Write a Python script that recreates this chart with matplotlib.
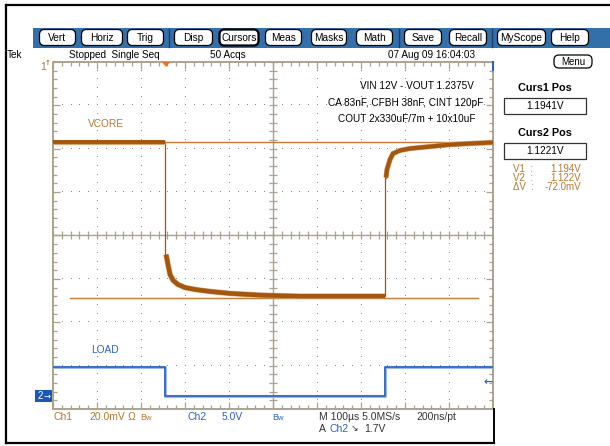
import matplotlib
matplotlib.use("Agg")
import matplotlib.pyplot as plt
from matplotlib.patches import FancyBboxPatch, Rectangle, Polygon
from matplotlib.collections import LineCollection
import numpy as np

# ---------------- data ----------------
# Channel 1 (VCORE), 20 mV/div, time in microseconds (100 us/div)
vcore_flat_t = [-500, -245.5]
vcore_flat_v = [1.1941, 1.1941]
vcore_droop_t = [-243, -238.6, -234, -227, -216, -200, -177, -143, -98, -30, 61, 254.5]
vcore_droop_v = [1.1423, 1.1377, 1.1331, 1.1304, 1.1285, 1.1271, 1.1262, 1.1253, 1.1244, 1.1236, 1.1231, 1.1231]
vcore_recov_t = [256.8, 259, 265.9, 272.7, 288.6, 311, 356.8, 402, 447.7, 500]
vcore_recov_v = [1.1778, 1.1815, 1.1861, 1.1889, 1.1903, 1.1912, 1.1921, 1.1930, 1.1935, 1.1940]
# Channel 2 (LOAD), 5 V/div
load_t = [-500, -245.5, -245.5, 254.5, 254.5, 500]
load_v = [3.34, 3.34, 0.0, 0.0, 3.34, 3.34]
# cursors
curs1_v = 1.1941
curs2_v = 1.1221
curs2_span = [-461, 466]

buttons = ["Vert", "Horiz", "Trig", "Disp", "Cursors", "Meas", "Masks", "Math",
           "Save", "Recall", "MyScope", "Help"]
button_x = [(39, 76), (81, 123), (127, 164), (174, 213), (219, 259), (265, 302),
            (311, 347), (356, 393), (404, 442), (449, 487), (497, 546), (551, 589)]

# ---------------- scales / style ----------------
CH1_CENTER = 1.1511      # volts at screen centre for Ch1
CH1_DIV = 0.02
CH2_GND_DIV = -3.69      # Ch2 ground position (divisions)
CH2_DIV = 5.0
ORANGE = "#a4560f"
ORANGE_L = "#c47a34"
ORANGE_T = "#b87830"
BLUE = "#2a62c0"
FRAME = "#a9a38e"
DOT = "#8f8f86"
NARROW = ["Liberation Sans Narrow", "Liberation Sans", "DejaVu Sans"]

W, H = 610, 446
fig = plt.figure(figsize=(W / 100, H / 100), dpi=100)
fig.patch.set_facecolor("white")

GL, GR, GT, GB = 53, 493, 62, 409
ax = fig.add_axes([GL / W, (H - GB) / H, (GR - GL) / W, (GB - GT) / H])
ax.set_xlim(-500, 500)
ax.set_ylim(CH1_CENTER - 4 * CH1_DIV, CH1_CENTER + 4 * CH1_DIV)
ax.set_facecolor("white")
ax.axis("off")

ax2 = ax.twinx()
ax2.set_ylim((-4 - CH2_GND_DIV) * CH2_DIV, (4 - CH2_GND_DIV) * CH2_DIV)
ax2.axis("off")

px_x = 1000 / (GR - GL)
px_y = 8 * CH1_DIV / (GB - GT)
x0, x1 = -500, 500
y0, y1 = CH1_CENTER - 4 * CH1_DIV, CH1_CENTER + 4 * CH1_DIV
minor_x = np.arange(-500, 500.1, 20)
minor_y = np.linspace(y0, y1, 41)
major_x = np.arange(-500, 500.1, 100)
major_y = np.linspace(y0, y1, 9)

# dotted graticule
dx, dy = [], []
for mx in major_x[1:-1]:
    if abs(mx) < 1e-6:
        continue
    dx += [mx] * len(minor_y)
    dy += list(minor_y)
for k, my in enumerate(major_y[1:-1]):
    if k == 3:
        continue
    dx += list(minor_x)
    dy += [my] * len(minor_x)
ax.plot(dx, dy, ",", color=DOT, zorder=1)

segs = []
for i, xx in enumerate(minor_x):
    L = (7 if i % 5 == 0 else 4) * px_y
    segs.append([(xx, y1), (xx, y1 - L)])
    segs.append([(xx, y0), (xx, y0 + L)])
    segs.append([(xx, CH1_CENTER - 4 * px_y), (xx, CH1_CENTER + 4 * px_y)])
for i, yy in enumerate(minor_y):
    L = (7 if i % 5 == 0 else 4) * px_x
    segs.append([(x0, yy), (x0 + L, yy)])
    segs.append([(x1, yy), (x1 - L, yy)])
    segs.append([(-4 * px_x, yy), (4 * px_x, yy)])
ax.add_collection(LineCollection(segs, colors=FRAME, linewidths=0.9, zorder=2))
ax.plot([0, 0], [y0, y1], color=FRAME, lw=1.0, zorder=2)
ax.plot([x0, x1], [CH1_CENTER, CH1_CENTER], color=FRAME, lw=1.0, zorder=2)
ax.plot([x0, x1, x1, x0, x0], [y0, y0, y1, y1, y0], color=FRAME, lw=1.4,
        zorder=2, clip_on=False)

# cursors
ax.plot([x0, x1], [curs1_v, curs1_v], color=ORANGE_L, lw=1.0, zorder=3)
ax.plot(curs2_span, [curs2_v, curs2_v], color=ORANGE_L, lw=1.0, zorder=3)

# Ch1 trace
ax.plot([vcore_flat_t[-1], vcore_flat_t[-1], vcore_droop_t[0]],
        [vcore_flat_v[-1], vcore_droop_v[0], vcore_droop_v[0]], color=ORANGE, lw=0.9, zorder=4)
ax.plot([vcore_droop_t[-1], vcore_droop_t[-1], vcore_recov_t[0]],
        [vcore_droop_v[-1], vcore_recov_v[0], vcore_recov_v[0]], color=ORANGE, lw=0.9, zorder=4)
for tt, vv, w in [(vcore_flat_t, vcore_flat_v, 2.8),
                  (vcore_droop_t, vcore_droop_v, 3.2),
                  (vcore_recov_t, vcore_recov_v, 3.0)]:
    ax.plot(tt, vv, color="#d9a878", lw=w + 0.8, zorder=4, solid_capstyle="butt")
    ax.plot(tt, vv, color=ORANGE, lw=w, zorder=5, solid_capstyle="butt")

# Ch2 trace
ax2.plot(load_t, load_v, color="#9db8e4", lw=2.2, zorder=4)
ax2.plot(load_t, load_v, color=BLUE, lw=1.2, zorder=5)

# ---------------- overlay (pixel coordinates) ----------------
ov = fig.add_axes([0, 0, 1, 1], zorder=10)
ov.set_xlim(0, W)
ov.set_ylim(H, 0)
ov.axis("off")
ov.patch.set_alpha(0)

ov.plot([6, 6], [5, 443], color="black", lw=1.6)
ov.plot([6, W], [5, 5], color="black", lw=1.6)
ov.plot([6, 494], [443, 443], color="black", lw=1.6)
ov.plot([494, 494], [409, 443], color="black", lw=1.4)

# toolbar
ov.add_patch(Rectangle((33, 28), W - 33, 20, facecolor="#3370a9", edgecolor="none"))
for sx in [168.5, 398.5, 492]:
    ov.plot([sx, sx], [29, 47], color="#1d3f66", lw=1.0)
for name, (a, b) in zip(buttons, button_x):
    lw = 1.6 if name == "Cursors" else 0.9
    ov.add_patch(FancyBboxPatch((a + 3, 32), b - a - 6, 11,
                                boxstyle="round,pad=2.5,rounding_size=5",
                                facecolor="white", edgecolor="black", lw=lw))
    ov.text((a + b) / 2, 38, name, ha="center", va="center", fontsize=7.3,
            family=NARROW, color="black")

# status row
st = dict(fontsize=7.2, family=NARROW, color="black", va="center")
ov.text(7, 55, "Tek", **st)
ov.text(69, 55, "Stopped  Single Seq", **st)
ov.text(210, 55, "50 Acqs", **st)
ov.text(388, 55, "07 Aug 09 16:04:03", **st)

ov.add_patch(FancyBboxPatch((556, 57), 34, 9, boxstyle="round,pad=2,rounding_size=5",
                            facecolor="white", edgecolor="black", lw=0.9))
ov.text(573, 62, "Menu", ha="center", va="center", fontsize=7, family=NARROW)

ov.add_patch(Polygon([(162, 62), (170, 62), (166, 67)], closed=True,
                     facecolor="#e8702a", edgecolor="none"))
ov.plot([493, 493], [62, 70], color=BLUE, lw=1.5)

ov.text(40, 67, "1", color=ORANGE_T, fontsize=7.5, family=NARROW, va="center")
ov.text(45, 63, "↑", color=ORANGE_T, fontsize=5, family=["DejaVu Sans"], va="center",
        fontweight="bold")
ov.add_patch(Rectangle((35, 390), 17, 12, facecolor="#1a58b8", edgecolor="none"))
ov.text(38, 396, "2", color="white", fontsize=7, family=NARROW, va="center")
ov.text(44, 396, "→", color="white", fontsize=6, family=["DejaVu Sans"], va="center")
ov.text(488, 382, "←", color=BLUE, fontsize=8, family=["DejaVu Sans"], va="center",
        ha="center", fontweight="bold")

an = dict(fontsize=7.2, family=NARROW, color="black", va="center", ha="right")
ov.text(474, 86, "VIN 12V - VOUT 1.2375V", **an)
ov.text(483, 103, "CA 83nF, CFBH 38nF, CINT 120pF", **an)
ov.text(476, 119, "COUT 2x330uF/7m + 10x10uF", **an)
ov.text(88, 124, "VCORE", fontsize=7.3, family=NARROW, color=ORANGE_T, va="center")
ov.text(91, 350, "LOAD", fontsize=7.3, family=NARROW, color=BLUE, va="center")

bt = dict(fontsize=7.5, family=NARROW, va="center")
ov.text(53, 417, "Ch1", color=ORANGE_T, **bt)
ov.text(89, 417, "20.0mV", color=ORANGE_T, **bt)
ov.text(128, 417, "Ω", color=ORANGE_T, **bt)
ov.text(140, 417, "B", color=ORANGE_T, fontsize=6.5, family=NARROW, va="center")
ov.text(145, 419, "w", color=ORANGE_T, fontsize=5.5, family=NARROW, va="center")
ov.text(187, 417, "Ch2", color=BLUE, **bt)
ov.text(222, 417, "5.0V", color=BLUE, **bt)
ov.text(272, 417, "B", color=BLUE, fontsize=6.5, family=NARROW, va="center")
ov.text(277, 419, "w", color=BLUE, fontsize=5.5, family=NARROW, va="center")
ov.text(319, 417, "M 100µs 5.0MS/s", color="#333333", **bt)
ov.text(416, 417, "200ns/pt", color="#333333", **bt)
ov.text(319, 429, "A", color="#333333", **bt)
ov.text(330, 429, "Ch2", color=BLUE, **bt)
ov.text(351, 429, "↘", color="#333333", fontsize=6.5, family=["DejaVu Sans"], va="center")
ov.text(364, 429, "1.7V", color="#333333", **bt)

ov.text(545, 88, "Curs1 Pos", ha="center", va="center", fontsize=7.8,
        fontweight="bold", family=["Liberation Sans", "DejaVu Sans"])
ov.add_patch(Rectangle((504, 98), 82, 16, facecolor="white", edgecolor="#333333", lw=0.9))
ov.text(545, 106, "1.1941V", ha="center", va="center", fontsize=7.3, family=NARROW)
ov.text(545, 133, "Curs2 Pos", ha="center", va="center", fontsize=7.8,
        fontweight="bold", family=["Liberation Sans", "DejaVu Sans"])
ov.add_patch(Rectangle((504, 143), 82, 16, facecolor="white", edgecolor="#333333", lw=0.9))
ov.text(545, 151, "1.1221V", ha="center", va="center", fontsize=7.3, family=NARROW)
rp = dict(fontsize=7.0, family=NARROW, color=ORANGE_T, va="center")
for yy, lab, val in [(169, "V1  :", "1.194V"), (178, "V2  :", "1.122V"),
                     (187, "ΔV  :", "-72.0mV")]:
    ov.text(513, yy, lab, ha="left", **rp)
    ov.text(581, yy, val, ha="right", **rp)

fig.savefig("out.png", dpi=100, facecolor="white")
